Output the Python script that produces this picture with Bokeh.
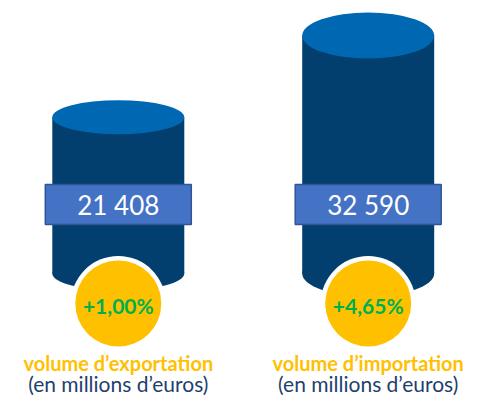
from bokeh.plotting import figure
from bokeh.models import Range1d, ColumnDataSource
from bokeh.core.properties import value
from bokeh.embed import file_html
from bokeh.resources import INLINE

# ---- data ----
categories = ["volume d’exportation", "volume d’importation"]
volumes = [21408, 32590]          # millions d'euros
variations = ["+1,00%", "+4,65%"]
unit_label = "(en millions d’euros)"

# ---- layout constants (screen px) ----
W, H = 463, 395
PX_PER_X = 249.9                  # px per category step
X0 = -117.8 / PX_PER_X
K = 0.0073                        # px per million euros
BASE_PX = 273                     # base of cylinders, from plot top
y_end = BASE_PX / K
y_start = y_end - H / K
upp = 1.0 / K                     # data units per px


def below(px):
    """data y for a screen row px measured from the plot top"""
    return (BASE_PX - px) * upp


FONT = "Lato"
BODY = "#023F6E"
TOP = "#0068B2"
BOX = "#4472C4"
BOX_LINE = "#2F5597"
YELLOW = "#FFC000"
GREEN = "#00B050"
NAVY = "#1F3F6E"

xs = list(range(len(categories)))
src = ColumnDataSource(dict(
    x=xs,
    vol=volumes,
    vol_txt=[f"{v:,}".replace(",", " ") for v in volumes],
    var=variations,
    cat=categories,
    unit=[unit_label] * len(categories),
))

p = figure(width=W, height=H,
           x_range=Range1d(X0, X0 + W / PX_PER_X),
           y_range=Range1d(y_start, y_end),
           output_backend="svg", toolbar_location=None,
           x_axis_location=None, y_axis_location=None,
           min_border=0)
p.grid.visible = False
p.outline_line_color = None
p.background_fill_color = "white"
p.border_fill_color = "white"

cyl_w = 132 / PX_PER_X
ell_h = [34 * upp, 46 * upp]

# bottom ellipse
p.ellipse(x=xs, y=[0] * len(xs), width=cyl_w, height=ell_h,
          fill_color=BODY, line_color=None)
# body
p.vbar(x="x", top="vol", bottom=0, width=cyl_w, source=src,
       fill_color=BODY, line_color=None)
# top ellipse
p.ellipse(x=xs, y=volumes, width=cyl_w, height=ell_h,
          fill_color=TOP, line_color=None)

# value boxes
box_y = below(204)
p.rect(x="x", y=box_y, width=146 / PX_PER_X, height=40, height_units="screen",
       source=src, fill_color=BOX, line_color=BOX_LINE, line_width=1.5)
p.text(x="x", y=box_y, text="vol_txt", source=src,
       text_font=value(FONT), text_font_size="26px", text_color="white",
       text_align="center", text_baseline="middle")

# circles
circ_y = below(303)
p.scatter(x="x", y=circ_y, size=95, source=src,
          fill_color="white", line_color=None)
p.scatter(x="x", y=circ_y, size=86, source=src,
          fill_color=YELLOW, line_color=None)
p.text(x="x", y=below(305), text="var", source=src,
       text_font=value(FONT), text_font_size="21px", text_font_style="bold",
       text_color=GREEN, text_align="center", text_baseline="middle")

# labels
p.text(x="x", y=below(362), text="cat", source=src,
       text_font=value(FONT), text_font_size="20px", text_font_style="bold",
       text_color=YELLOW, text_align="center", text_baseline="middle")
p.text(x="x", y=below(383), text="unit", source=src,
       text_font=value(FONT), text_font_size="21px",
       text_color=NAVY, text_align="center", text_baseline="middle")

open("out.html", "w").write(file_html(p, INLINE))
